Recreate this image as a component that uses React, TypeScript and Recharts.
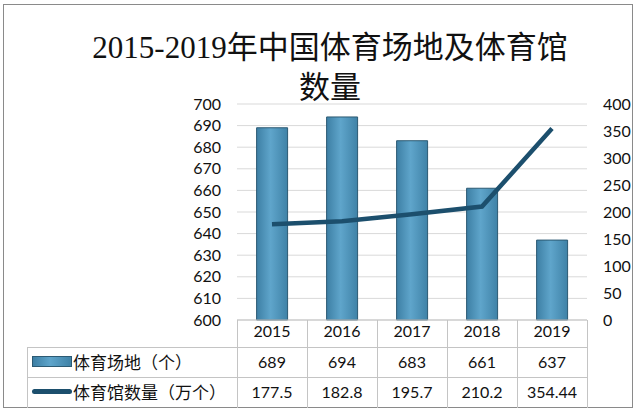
import { ComposedChart, Bar, Line, XAxis, YAxis, CartesianGrid } from 'recharts';

const years = ['2015', '2016', '2017', '2018', '2019'];
const venues = [689, 694, 683, 661, 637];
const gyms = [177.5, 182.8, 195.7, 210.2, 354.44];
const leftTicks = [600, 610, 620, 630, 640, 650, 660, 670, 680, 690, 700];
const rightTicks = [0, 50, 100, 150, 200, 250, 300, 350, 400];
const venueName = '体育场地（个）';
const gymName = '体育馆数量（万个）';

const data = years.map((year, i) => ({ year, venue: venues[i], gym: gyms[i] }));

const W = 640;
const H = 413;
const plotLeft = 237;
const plotRight = 587;
const plotTop = 104;
const plotBottom = 320;
const leftAxisW = 60;
const rightAxisW = 50;
const colW = (plotRight - plotLeft) / years.length;

const numFont = 'Lato, "Noto Sans CJK SC", sans-serif';
const cjkFont = '"Noto Sans CJK SC", sans-serif';
const lineColor = '#c4c4c4';

const rows = [
  { name: venueName, values: venues, top: 347, kind: 'bar' },
  { name: gymName, values: gyms, top: 377, kind: 'line' },
];

const App = () => {
  return (
    <div
      style={{
        position: 'absolute',
        left: 0,
        top: 0,
        width: W,
        height: H,
        background: '#fff',
        overflow: 'hidden',
      }}
    >
      {/* outer frame */}
      <div
        style={{
          position: 'absolute',
          left: 3,
          top: 4,
          width: 630,
          height: 404,
          border: '1px solid #8a8a8a',
          boxSizing: 'border-box',
        }}
      />
      {/* title */}
      <div
        style={{
          position: 'absolute',
          left: 0,
          width: 660,
          top: 28,
          textAlign: 'center',
          fontFamily: '"Liberation Serif", "Noto Sans CJK SC", serif',
          fontSize: 31,
          lineHeight: '40px',
          color: '#111',
        }}
      >
        <div>2015-2019年中国体育场地及体育馆</div>
        <div>数量</div>
      </div>

      <div style={{ position: 'absolute', left: 0, top: 0 }}>
        <ComposedChart
          width={W}
          height={H}
          data={data}
          barCategoryGap="28%"
          margin={{
            top: plotTop,
            bottom: H - plotBottom - 26,
            left: plotLeft - leftAxisW,
            right: W - plotRight - rightAxisW,
          }}
        >
          <defs>
            <linearGradient id="barFill" x1="0" y1="0" x2="1" y2="0">
              <stop offset="0%" stopColor="#3d7fa4" />
              <stop offset="45%" stopColor="#5fa5cb" />
              <stop offset="100%" stopColor="#3f82a7" />
            </linearGradient>
          </defs>
          <CartesianGrid
            yAxisId="left"
            vertical={false}
            stroke="#d9d9d9"
          />
          <XAxis
            dataKey="year"
            height={26}
            tickLine={false}
            tickSize={0}
            tickMargin={6}
            axisLine={{ stroke: lineColor }}
            tick={{ fill: '#111', fontSize: 16, fontFamily: numFont }}
          />
          <YAxis
            yAxisId="left"
            domain={[600, 700]}
            ticks={leftTicks}
            interval={0}
            width={leftAxisW}
            tickLine={false}
            axisLine={false}
            tickSize={0}
            tickMargin={16}
            tick={{ fill: '#111', fontSize: 16, fontFamily: numFont }}
          />
          <YAxis
            yAxisId="right"
            orientation="right"
            domain={[0, 400]}
            ticks={rightTicks}
            interval={0}
            width={rightAxisW}
            tickLine={false}
            axisLine={false}
            tickSize={0}
            tickMargin={16}
            tick={{ fill: '#111', fontSize: 16, fontFamily: numFont, textAnchor: 'start' }}
          />
          <Bar
            yAxisId="left"
            dataKey="venue"
            name={venueName}
            fill="url(#barFill)"
            stroke="#2c5a73"
            strokeWidth={1}
            isAnimationActive={false}
          />
          <Line
            yAxisId="right"
            dataKey="gym"
            name={gymName}
            type="linear"
            stroke="#1c4f6d"
            strokeWidth={4.5}
            dot={false}
            activeDot={false}
            isAnimationActive={false}
          />
        </ComposedChart>
      </div>

      {/* data table */}
      {years.map((y, i) => (
        <div
          key={'v' + y}
          style={{
            position: 'absolute',
            left: plotLeft + i * colW,
            top: plotBottom,
            width: 0,
            height: 408 - plotBottom,
            borderLeft: `1px solid ${lineColor}`,
          }}
        />
      ))}
      <div
        style={{
          position: 'absolute',
          left: plotRight,
          top: plotBottom,
          width: 0,
          height: 408 - plotBottom,
          borderLeft: `1px solid ${lineColor}`,
        }}
      />
      <div
        style={{
          position: 'absolute',
          left: 27,
          top: 347,
          width: 0,
          height: 61,
          borderLeft: `1px solid ${lineColor}`,
        }}
      />
      {rows.map((r) => (
        <div key={r.name}>
          <div
            style={{
              position: 'absolute',
              left: 27,
              top: r.top,
              width: plotRight - 27,
              height: 0,
              borderTop: `1px solid ${lineColor}`,
            }}
          />
          {r.kind === 'bar' ? (
            <div
              style={{
                position: 'absolute',
                left: 32,
                top: r.top + 9,
                width: 40,
                height: 11,
                background: 'linear-gradient(to right, #3d7fa4, #5fa5cb 45%, #3f82a7)',
                border: '1px solid #2c5a73',
                boxSizing: 'border-box',
              }}
            />
          ) : (
            <div
              style={{
                position: 'absolute',
                left: 32,
                top: r.top + 12,
                width: 40,
                height: 5,
                borderRadius: 3,
                background: '#1c4f6d',
              }}
            />
          )}
          <div
            style={{
              position: 'absolute',
              left: 73,
              top: r.top,
              height: 30,
              lineHeight: '30px',
              fontFamily: cjkFont,
              fontSize: 17,
              color: '#111',
              whiteSpace: 'nowrap',
            }}
          >
            {r.name}
          </div>
          {r.values.map((v, i) => (
            <div
              key={i}
              style={{
                position: 'absolute',
                left: plotLeft + i * colW,
                top: r.top,
                width: colW,
                height: 30,
                lineHeight: '30px',
                textAlign: 'center',
                fontFamily: numFont,
                fontSize: 16,
                color: '#111',
              }}
            >
              {v}
            </div>
          ))}
        </div>
      ))}
    </div>
  );
};

export default App;
